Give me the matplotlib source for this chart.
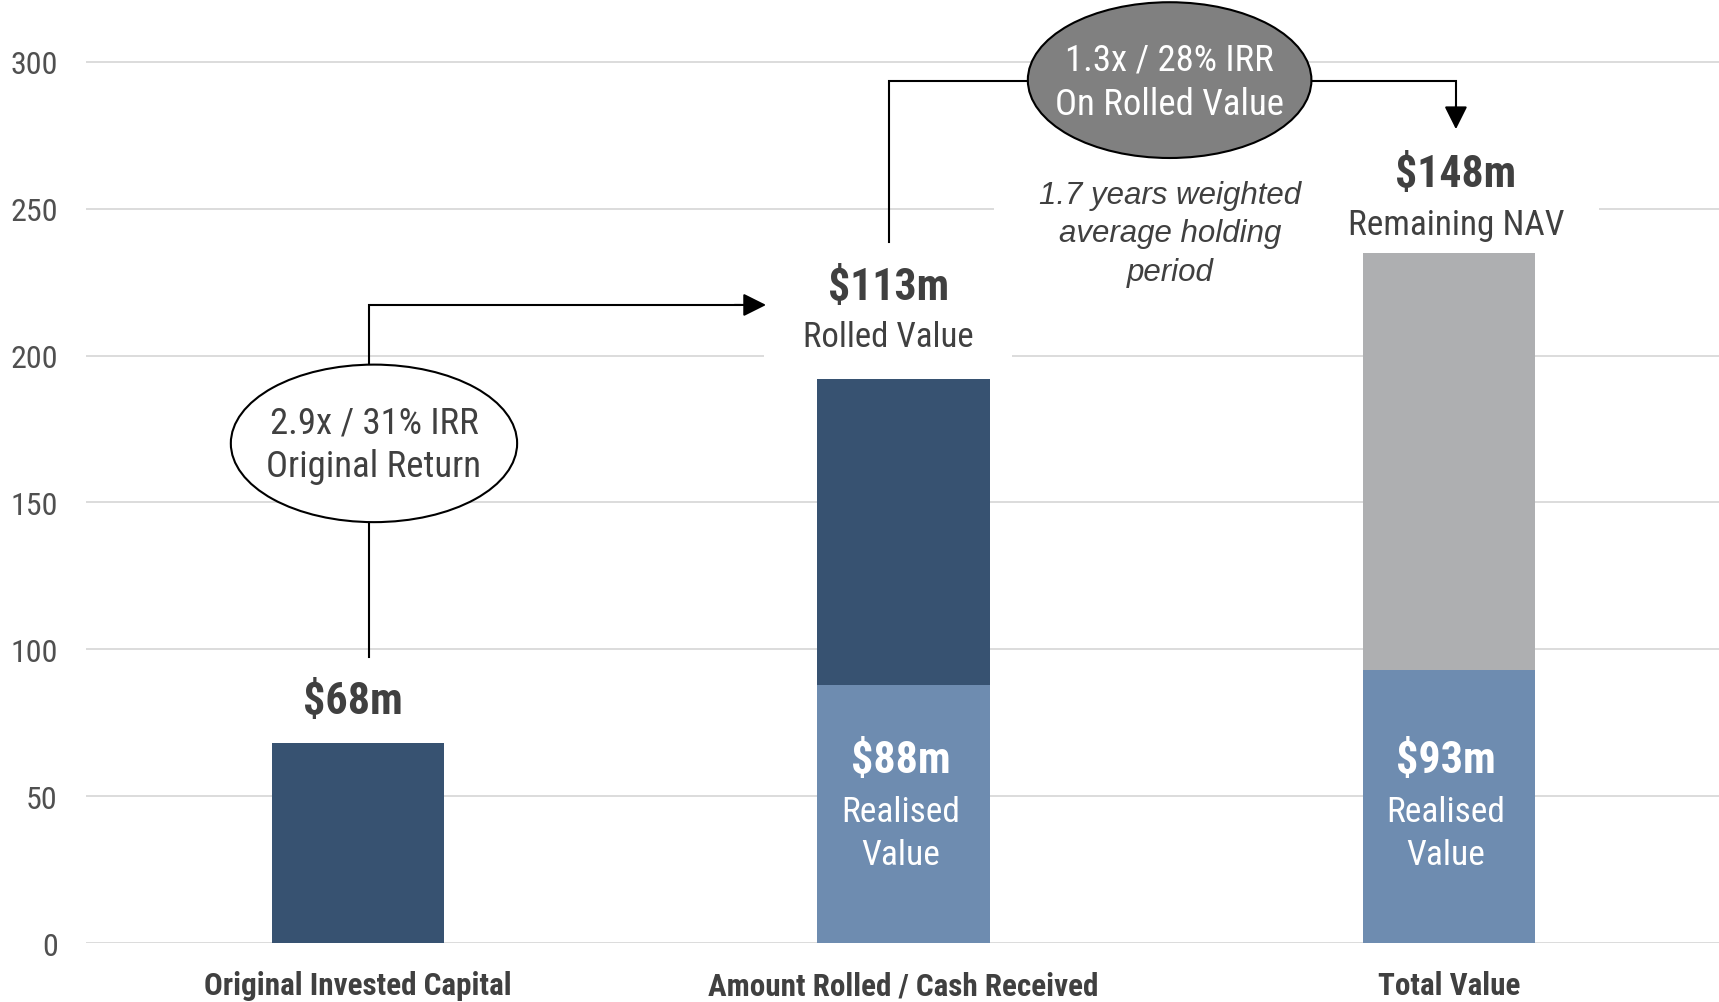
import matplotlib
matplotlib.use("Agg")
import matplotlib.pyplot as plt
import matplotlib.font_manager as fm
from matplotlib.patches import Ellipse

# ---------------- data ----------------
categories = ["Original Invested Capital", "Amount Rolled / Cash Received", "Total Value"]
invested = [68, 0, 0]          # dark navy (original capital)
realised = [0, 88, 93]         # light blue (realised value)
rolled = [0, 104, 0]           # dark navy stacked on realised
remaining = [0, 0, 142]        # grey stacked on realised
yticks = [0, 50, 100, 150, 200, 250, 300]
top_labels = ["$68m", "$113m", "$148m"]
top_sublabels = ["", "Rolled Value", "Remaining NAV"]
inner_labels = ["", "$88m", "$93m"]
bubble1_text = "2.9x / 31% IRR\nOriginal Return"
bubble2_text = "1.3x / 28% IRR\nOn Rolled Value"
holding_text = "1.7 years weighted\naverage holding\nperiod"


# ---------------- fonts ----------------
def has_static(name):
    ws = set()
    for f in fm.fontManager.ttflist:
        if f.name == name and f.style == "normal" and "[" not in f.fname:
            ws.add(f.weight)
    return any(w in (400, "normal", "regular", "book") for w in ws) and \
        any(w in (700, "bold") for w in ws)


candidates = ["Liberation Sans Narrow", "Arial Narrow", "Roboto Condensed", "Archivo Narrow",
              "Pragati Narrow", "PT Sans Narrow", "IBM Plex Sans Condensed",
              "Fira Sans Condensed", "Barlow Semi Condensed", "Encode Sans Condensed"]
NARROW = next((c for c in candidates if has_static(c)), "Liberation Sans")
names = {f.name for f in fm.fontManager.ttflist}
REG = "Liberation Sans" if "Liberation Sans" in names else "DejaVu Sans"

DARK = "#375271"
LIGHT = "#6e8cb0"
GREY = "#aeafb1"
TXT = "#404040"
GRID = "#d9d9d9"

fig = plt.figure(figsize=(17.19, 10.03), dpi=100)
ax = fig.add_axes([85.5 / 1719, 1 - 944.3 / 1003, 1636 / 1719, 944.3 / 1003])

x = list(range(len(categories)))
w = 0.316
ax.bar(x, invested, width=w, color=DARK, zorder=2)
ax.bar(x, realised, width=w, color=LIGHT, zorder=2)
ax.bar(x, rolled, width=w, bottom=realised, color=DARK, zorder=2)
ax.bar(x, remaining, width=w, bottom=realised, color=GREY, zorder=2)

ax.set_xlim(-0.5, 2.5)
ax.set_ylim(0, 321.3)
ax.set_yticks(yticks)
ax.set_yticklabels([str(t) for t in yticks], fontfamily=NARROW, fontsize=23, color="#505050")
ax.set_xticks(x)
ax.set_xticklabels(categories, fontfamily=NARROW, fontsize=22.4, fontweight="bold", color=TXT)
ax.tick_params(axis="both", length=0)
ax.tick_params(axis="y", pad=20)
ax.tick_params(axis="x", pad=19.5)
ax.yaxis.grid(True, color=GRID, lw=1.3)
ax.set_axisbelow(True)
for s in ax.spines.values():
    s.set_visible(False)

# ---------------- labels ----------------
ax.text(-0.009, 82.3, top_labels[0], ha="center", va="center", fontfamily=NARROW,
        fontsize=31.8, fontweight="bold", color=TXT, zorder=4)
ax.text(0.972, 223.2, top_labels[1], ha="center", va="center", fontfamily=NARROW,
        fontsize=31.5, fontweight="bold", color=TXT, zorder=4)
ax.text(0.972, 206.5, top_sublabels[1], ha="center", va="center", fontfamily=NARROW,
        fontsize=25, color=TXT, zorder=1.5,
        bbox=dict(facecolor="white", edgecolor="none", boxstyle="square,pad=1.12"))
ax.text(2.013, 261.6, top_labels[2], ha="center", va="center", fontfamily=NARROW,
        fontsize=31.5, fontweight="bold", color=TXT, zorder=4)
ax.text(2.013, 244.6, top_sublabels[2], ha="center", va="center", fontfamily=NARROW,
        fontsize=25.4, color=TXT, zorder=1.5,
        bbox=dict(facecolor="white", edgecolor="none", boxstyle="square,pad=1.0"))
ax.text(1.489, 241.6, holding_text, ha="center", va="center", fontfamily=REG,
        fontsize=22.5, fontstyle="italic", color=TXT, linespacing=1.37, zorder=1.5,
        bbox=dict(facecolor="white", edgecolor="none", boxstyle="square,pad=1.45"))

for i in (1, 2):
    ax.text(i - 0.005, 62.4, inner_labels[i], ha="center", va="center", fontfamily=NARROW,
            fontsize=31.8, fontweight="bold", color="white", zorder=4)
    ax.text(i - 0.005, 37.6, "Realised\nValue", ha="center", va="center", fontfamily=NARROW,
            fontsize=25.5, color="white", linespacing=1.4, zorder=4)

# ---------------- connectors ----------------
LW = 1.5
ax.plot([0.02, 0.02, 0.70], [97.5, 217.2, 217.2], color="black", lw=LW, zorder=3,
        solid_joinstyle="miter")
ax.annotate("", xy=(0.748, 217.2), xytext=(0.69, 217.2),
            arrowprops=dict(arrowstyle="-|>,head_length=0.7,head_width=0.35", color="black",
                            lw=LW, shrinkA=0, shrinkB=0, mutation_scale=20), zorder=3)
ax.plot([0.974, 0.974, 2.013, 2.013], [238.6, 293.4, 293.4, 283], color="black", lw=LW,
        zorder=3, solid_joinstyle="miter")
ax.annotate("", xy=(2.013, 277.0), xytext=(2.013, 285),
            arrowprops=dict(arrowstyle="-|>,head_length=0.7,head_width=0.35", color="black",
                            lw=LW, shrinkA=0, shrinkB=0, mutation_scale=20), zorder=3)

e1 = Ellipse((0.029, 170.1), 0.525, 53.6, facecolor="white", edgecolor="black", lw=LW, zorder=5)
ax.add_patch(e1)
ax.text(0.029, 169.8, bubble1_text, ha="center", va="center", fontfamily=NARROW,
        fontsize=26.5, color=TXT, linespacing=1.3, zorder=6)

e2 = Ellipse((1.488, 293.7), 0.52, 53.0, facecolor="#808080", edgecolor="black", lw=LW,
             zorder=5, clip_on=False)
ax.add_patch(e2)
ax.text(1.488, 293.0, bubble2_text, ha="center", va="center", fontfamily=NARROW,
        fontsize=26.5, color="white", linespacing=1.3, zorder=6)

fig.savefig("out.png", dpi=100)
